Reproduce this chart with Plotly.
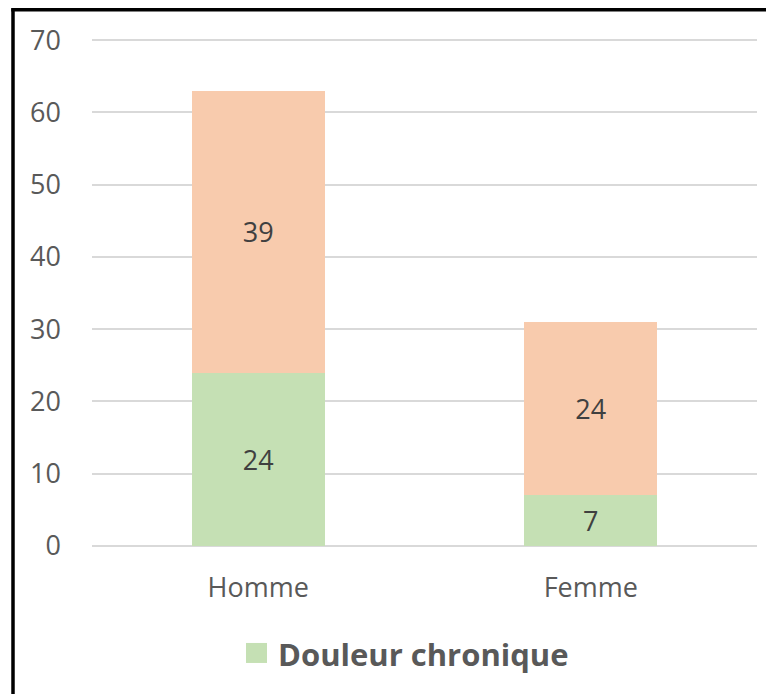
import plotly.graph_objects as go

categories = ["Homme", "Femme"]
douleur_chronique = [24, 7]
autres = [39, 24]
y_ticks = [0, 10, 20, 30, 40, 50, 60, 70]

# page has an 8px body margin; work in page pixels and convert
OFF = 8
W, H = 774 - OFF, 694 - OFF
YMAX = 70.3
PL, PR, PB = 92, 757, 546          # plot area in page px
PX_PER_UNIT = (546 - 40) / 70.0
PT = PB - YMAX * PX_PER_UNIT
L, R, T, B = PL - OFF, W - (PR - OFF), PT - OFF, H - (PB - OFF)
pw, ph = PR - PL, PB - PT

def px(x):
    return (x - PL) / pw

def py(y):
    return (PB - y) / ph

FONT = "Open Sans"
GREY = "#595959"

fig = go.Figure()
fig.add_trace(go.Bar(
    x=categories, y=douleur_chronique, name="Douleur chronique",
    marker=dict(color="#C5E0B4", line=dict(width=0)),
    text=douleur_chronique, textposition="inside", insidetextanchor="middle",
    textfont=dict(size=27, color="#404040", family=FONT),
    showlegend=False,
))
fig.add_trace(go.Bar(
    x=categories, y=autres, name="Autre",
    marker=dict(color="#F8CBAD", line=dict(width=0)),
    text=autres, textposition="inside", insidetextanchor="middle",
    textfont=dict(size=27, color="#404040", family=FONT),
    showlegend=False,
))

fig.update_layout(
    barmode="stack",
    bargap=0.6,
    width=W, height=H,
    margin=dict(l=L, r=R, t=T, b=B, autoexpand=False),
    paper_bgcolor="white", plot_bgcolor="white",
    font=dict(family=FONT, color=GREY, size=27),
    uniformtext=dict(minsize=8, mode="show"),
    showlegend=False,
    xaxis=dict(showgrid=False, showline=False, ticks="",
               ticklabelstandoff=23,
               tickfont=dict(size=27, color=GREY, family=FONT)),
    yaxis=dict(range=[0, YMAX], tickvals=y_ticks, showgrid=True,
               gridcolor="#D9D9D9", gridwidth=1.5,
               zeroline=True, zerolinecolor="#D9D9D9", zerolinewidth=1.5,
               showline=False, ticks="", ticklabelstandoff=30,
               tickfont=dict(size=27, color=GREY, family=FONT)),
    shapes=[
        dict(type="line", xref="paper", yref="paper",
             x0=px(13), x1=px(13), y0=py(8), y1=py(700),
             line=dict(color="black", width=3.5)),
        dict(type="line", xref="paper", yref="paper",
             x0=px(11.3), x1=px(780), y0=py(9.6), y1=py(9.6),
             line=dict(color="black", width=3.5)),
        # legend swatch
        dict(type="rect", xref="paper", yref="paper",
             x0=px(246), x1=px(267), y0=py(663), y1=py(643),
             fillcolor="#C5E0B4", line=dict(width=0)),
    ],
    annotations=[
        dict(xref="paper", yref="paper", x=px(276), y=py(654),
             xanchor="left", yanchor="middle", showarrow=False,
             text="<b>Douleur chronique</b>",
             font=dict(size=31, color=GREY, family=FONT)),
    ],
)

fig.write_html("out.html")
